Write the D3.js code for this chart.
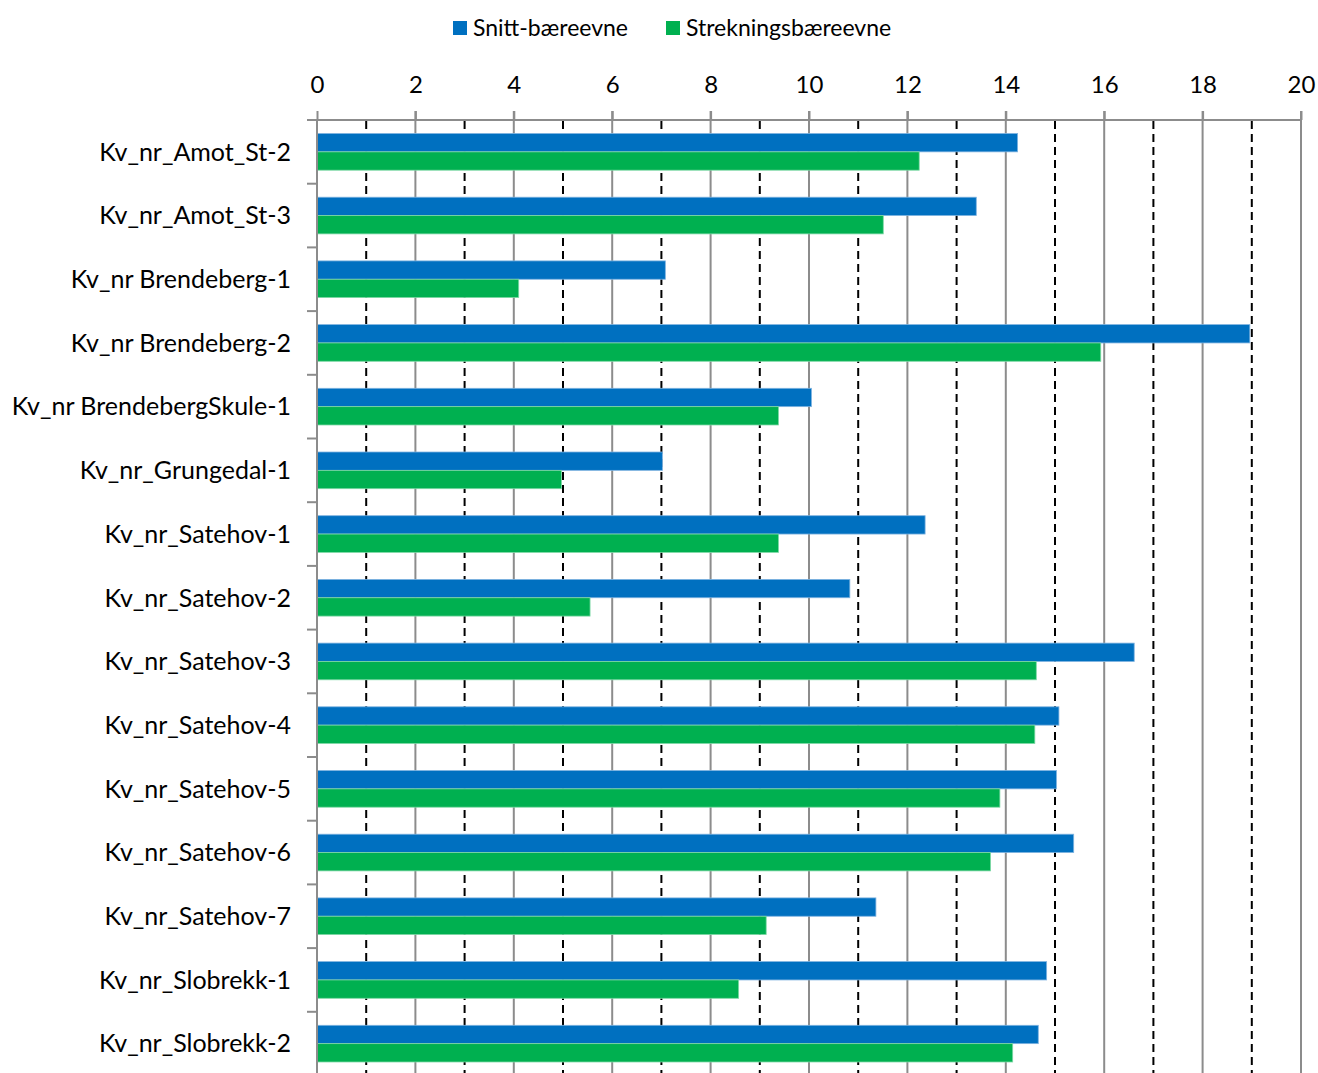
<!DOCTYPE html>
<html>
<head>
<meta charset="utf-8">
<script src="https://cdn.jsdelivr.net/npm/d3@7"></script>
<style>
  html, body { margin: 0; padding: 0; background: #fff; }
  svg { display: block; }
  text { font-family: Lato, "Open Sans", sans-serif; fill: #000; }
</style>
</head>
<body>
<svg id="chart" width="1318" height="1073"></svg>
<script>
const categories = [
  "Kv_nr_Amot_St-2", "Kv_nr_Amot_St-3", "Kv_nr Brendeberg-1", "Kv_nr Brendeberg-2",
  "Kv_nr BrendebergSkule-1", "Kv_nr_Grungedal-1", "Kv_nr_Satehov-1", "Kv_nr_Satehov-2",
  "Kv_nr_Satehov-3", "Kv_nr_Satehov-4", "Kv_nr_Satehov-5", "Kv_nr_Satehov-6",
  "Kv_nr_Satehov-7", "Kv_nr_Slobrekk-1", "Kv_nr_Slobrekk-2"
];
const seriesNames = ["Snitt-bæreevne", "Strekningsbæreevne"];
const snitt = [14.24, 13.40, 7.08, 18.96, 10.05, 7.02, 12.36, 10.83, 16.61, 15.08, 15.03, 15.38, 11.36, 14.83, 14.66];
const strekning = [12.24, 11.51, 4.10, 15.93, 9.38, 4.97, 9.38, 5.55, 14.62, 14.59, 13.88, 13.69, 9.13, 8.57, 14.14];
const majorTicks = [0, 2, 4, 6, 8, 10, 12, 14, 16, 18, 20];
const minorTicks = [1, 3, 5, 7, 9, 11, 13, 15, 17, 19];
const colors = ["#0070C0", "#00B050"];
const strokes = ["#7fb3e0", "#7fd8a6"];

(function () {
const svg = d3.select("#chart");
const pLeft = 317, pRight = 1301, pTop = 120, pBottom = 120 + 15 * 63.7;

const x = d3.scaleLinear().domain([0, 20]).range([pLeft, pRight]);
const y = d3.scaleBand().domain(categories).range([pTop, pBottom]).padding(0);
const ySub = d3.scaleBand().domain(seriesNames).range([0, y.bandwidth()]).paddingInner(0).paddingOuter(0.736);

const data = categories.map((c, i) => ({ cat: c, vals: [snitt[i], strekning[i]] }));

// minor dashed gridlines
svg.append("g").selectAll("line").data(minorTicks).join("line")
  .attr("x1", d => x(d)).attr("x2", d => x(d))
  .attr("y1", pTop + 1).attr("y2", pBottom)
  .attr("stroke", "#000").attr("stroke-width", 2)
  .attr("stroke-dasharray", "8,5");

// major solid gridlines
svg.append("g").selectAll("line").data(majorTicks.filter(d => d > 0)).join("line")
  .attr("x1", d => x(d)).attr("x2", d => x(d))
  .attr("y1", pTop - 9).attr("y2", pBottom)
  .attr("stroke", "#8c8c8c").attr("stroke-width", 2);

// bars
const groups = svg.append("g").selectAll("g").data(data).join("g")
  .attr("transform", d => `translate(0,${y(d.cat)})`);
groups.selectAll("rect").data(d => d.vals.map((v, k) => ({ v, k }))).join("rect")
  .attr("x", x(0))
  .attr("y", d => ySub(seriesNames[d.k]))
  .attr("width", d => x(d.v) - x(0))
  .attr("height", ySub.bandwidth())
  .attr("fill", d => colors[d.k])
  .attr("stroke", d => strokes[d.k])
  .attr("stroke-width", 0.8);

// top axis
const xAxis = d3.axisTop(x).tickValues(majorTicks).tickSize(9).tickPadding(18).tickFormat(d3.format("d"));
const gx = svg.append("g").attr("transform", `translate(0,${pTop})`).call(xAxis);
gx.select(".domain").attr("stroke", "#8c8c8c").attr("stroke-width", 2)
  .attr("d", `M${pLeft - 10},0H${pRight}`);
gx.selectAll(".tick line").attr("stroke", "#8c8c8c").attr("stroke-width", 2);
gx.selectAll(".tick text").style("font-size", "24px").style("font-family", "Lato, 'Open Sans', sans-serif").attr("fill", "#000");

// left axis
const yTicks = categories.map(c => y(c));
svg.append("line").attr("x1", pLeft).attr("x2", pLeft).attr("y1", pTop).attr("y2", pBottom)
  .attr("stroke", "#8c8c8c").attr("stroke-width", 2);
svg.append("g").selectAll("line").data(yTicks).join("line")
  .attr("x1", pLeft - 10).attr("x2", pLeft).attr("y1", d => d).attr("y2", d => d)
  .attr("stroke", "#8c8c8c").attr("stroke-width", 2);

// category labels
svg.append("g").selectAll("text").data(categories).join("text")
  .attr("x", pLeft - 26)
  .attr("y", d => y(d) + y.bandwidth() / 2)
  .attr("dy", "0.35em")
  .attr("text-anchor", "end")
  .style("font-size", "25px")
  .text(d => d);

// legend
const legendItems = [
  { name: seriesNames[0], color: colors[0], sx: 453, tx: 473 },
  { name: seriesNames[1], color: colors[1], sx: 666, tx: 686 }
];
const lg = svg.append("g");
lg.selectAll("rect").data(legendItems).join("rect")
  .attr("x", d => d.sx).attr("y", 21).attr("width", 14).attr("height", 14)
  .attr("fill", d => d.color);
lg.selectAll("text").data(legendItems).join("text")
  .attr("x", d => d.tx).attr("y", 28).attr("dy", "0.35em")
  .style("font-size", "23px")
  .text(d => d.name);
})();
</script>
</body>
</html>
